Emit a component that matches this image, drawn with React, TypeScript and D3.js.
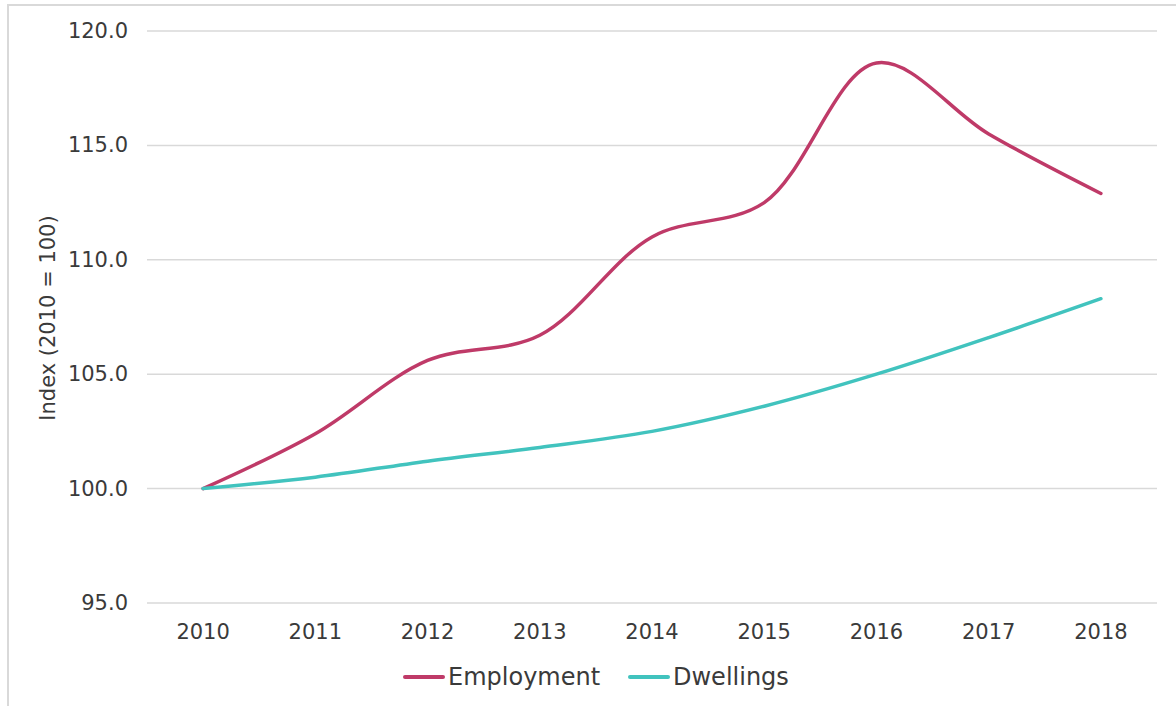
import React from "react";
import * as d3 from "d3";

const years = ["2010", "2011", "2012", "2013", "2014", "2015", "2016", "2017", "2018"];
const employment = [100.0, 102.4, 105.6, 106.7, 111.0, 112.5, 118.6, 115.5, 112.9];
const dwellings = [100.0, 100.5, 101.2, 101.8, 102.5, 103.6, 105.0, 106.6, 108.3];
const yTicks = [95, 100, 105, 110, 115, 120];
const seriesNames = ["Employment", "Dwellings"];
const seriesColors = ["#BF3A68", "#41C3BE"];

const W = 1176;
const H = 706;
const plotLeft = 147;
const plotRight = 1157;
const plotTop = 31;
const plotBottom = 603;
const font = "'DejaVu Sans', sans-serif";
const textColor = "#3a3a3a";

export default function App() {
  const x = d3.scalePoint<string>().domain(years).range([plotLeft, plotRight]).padding(0.5);
  const y = d3.scaleLinear().domain([95, 120]).range([plotBottom, plotTop]);
  const line = d3
    .line<number>()
    .x((_, i) => x(years[i]) as number)
    .y((d) => y(d))
    .curve(d3.curveCatmullRom.alpha(0.5));
  const series = [employment, dwellings];

  const legendY = 677;
  const legendItems = [
    { x0: 405, tx: 448 },
    { x0: 630, tx: 673 },
  ];

  return (
    <div style={{ position: "absolute", left: 0, top: 0 }}>
      <svg width={W} height={H} style={{ display: "block", background: "#fff" }}>
        <rect x={8} y={5} width={W + 20} height={H + 20} fill="#fff" stroke="#d9d9d9" strokeWidth={2} />
        {yTicks.map((t) => (
          <g key={t}>
            <line x1={plotLeft} x2={plotRight} y1={y(t)} y2={y(t)} stroke="#d9d9d9" strokeWidth={1.5} />
            <text
              x={128}
              y={y(t)}
              textAnchor="end"
              dominantBaseline="central"
              fontFamily={font}
              fontSize={21}
              fill={textColor}
            >
              {t.toFixed(1)}
            </text>
          </g>
        ))}
        {years.map((yr) => (
          <text
            key={yr}
            x={x(yr)}
            y={632}
            textAnchor="middle"
            dominantBaseline="central"
            fontFamily={font}
            fontSize={21}
            fill={textColor}
          >
            {yr}
          </text>
        ))}
        <text
          transform={`translate(48,318) rotate(-90)`}
          textAnchor="middle"
          dominantBaseline="central"
          fontFamily={font}
          fontSize={21}
          fill={textColor}
        >
          Index (2010 = 100)
        </text>
        {series.map((s, i) => (
          <path
            key={seriesNames[i]}
            d={line(s) || ""}
            fill="none"
            stroke={seriesColors[i]}
            strokeWidth={3.5}
            strokeLinecap="round"
            strokeLinejoin="round"
          />
        ))}
        {seriesNames.map((n, i) => (
          <g key={n}>
            <line
              x1={legendItems[i].x0}
              x2={legendItems[i].x0 + 38}
              y1={legendY}
              y2={legendY}
              stroke={seriesColors[i]}
              strokeWidth={4}
              strokeLinecap="round"
            />
            <text
              x={legendItems[i].tx}
              y={legendY}
              dominantBaseline="central"
              fontFamily={font}
              fontSize={24}
              fill={textColor}
            >
              {n}
            </text>
          </g>
        ))}
      </svg>
    </div>
  );
}
